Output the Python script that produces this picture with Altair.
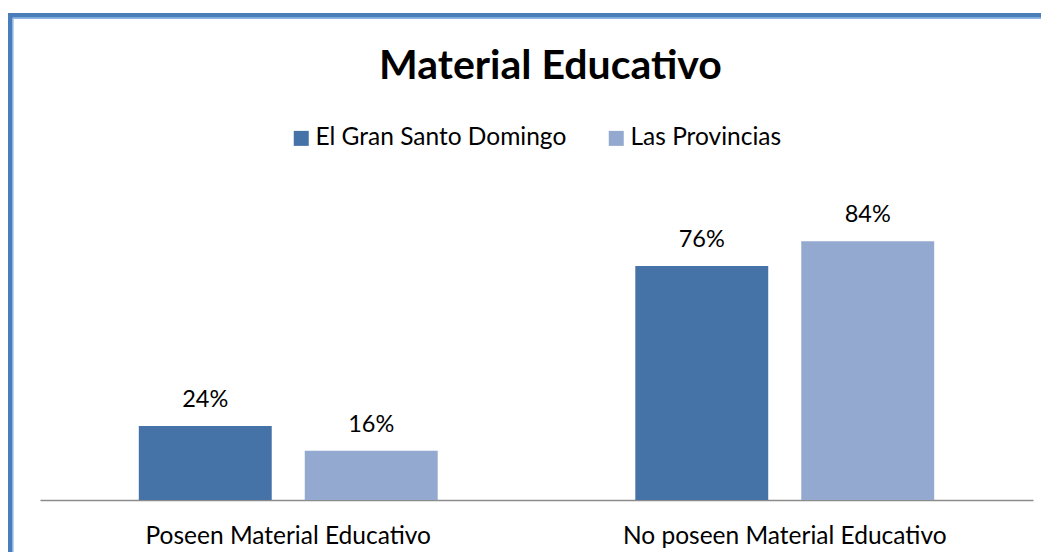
import altair as alt
import pandas as pd

categories = ["Poseen Material Educativo", "No poseen Material Educativo"]
series = ["El Gran Santo Domingo", "Las Provincias"]
gran_sd = [24, 76]
provincias = [16, 84]
colors = ["#4573A7", "#94A9CF"]

rows = []
for i, c in enumerate(categories):
    rows.append({"categoria": c, "serie": series[0], "valor": gran_sd[i], "etiqueta": f"{gran_sd[i]}%"})
    rows.append({"categoria": c, "serie": series[1], "valor": provincias[i], "etiqueta": f"{provincias[i]}%"})
df = pd.DataFrame(rows)

FONT = "Lato"

x_enc = alt.X("categoria:N", sort=categories,
              scale=alt.Scale(paddingInner=0.398, paddingOuter=0.199),
              axis=alt.Axis(title=None, labelAngle=0, ticks=False, tickSize=0,
                            labelFont=FONT, labelFontSize=24.5, labelColor="black",
                            labelBaseline="alphabetic", labelPadding=43, labelLimit=600,
                            domainColor="#8c8c8c", domainWidth=1.5, grid=False))
xo_enc = alt.XOffset("serie:N", sort=series,
                     scale=alt.Scale(paddingInner=0.199, paddingOuter=0))
y_enc = alt.Y("valor:Q", scale=alt.Scale(domain=[0, 100]), axis=None)

bars = alt.Chart(df).mark_bar().encode(
    x=x_enc, xOffset=xo_enc, y=y_enc,
    color=alt.Color("serie:N", scale=alt.Scale(domain=series, range=colors),
                    legend=alt.Legend(orient="none", legendX=249, legendY=-66,
                                      direction="horizontal", title=None,
                                      symbolType="square", symbolSize=225,
                                      symbolStrokeWidth=0, labelFont=FONT,
                                      labelFontSize=24.5, labelColor="black",
                                      labelOffset=2, columnPadding=37, padding=0,
                                      labelLimit=600)),
)

labels = alt.Chart(df).mark_text(font=FONT, fontSize=23.5, color="black",
                                 baseline="alphabetic", dy=-19).encode(
    x=alt.X("categoria:N", sort=categories), xOffset=alt.XOffset("serie:N", sort=series),
    y="valor:Q", text="etiqueta:N",
)

frame_outer = alt.Chart(df).mark_rect(fill=None, stroke="#4a7ebb", strokeWidth=4.5).encode(
    x=alt.value(-30), x2=alt.value(1100), y=alt.value(-176.5), y2=alt.value(600))
frame_inner = alt.Chart(df).mark_rect(fill=None, stroke="#8eb4e3", strokeWidth=1).encode(
    x=alt.value(-27.3), x2=alt.value(1100), y=alt.value(-173.8), y2=alt.value(600))

chart = alt.layer(bars, labels, frame_outer, frame_inner).properties(
    width=993, height=308,
    background="white",
    autosize=alt.AutoSizeParams(type="none"),
    padding={"left": 32, "top": 184, "right": 8, "bottom": 52},
    title=alt.TitleParams("Material Educativo", font=FONT, fontSize=41,
                          fontWeight="bold", color="black", anchor="middle",
                          baseline="alphabetic", offset=0, dy=107, dx=14),
).configure_view(stroke=None)

chart.save("out.html", embed_options={"renderer": "svg", "actions": False})
